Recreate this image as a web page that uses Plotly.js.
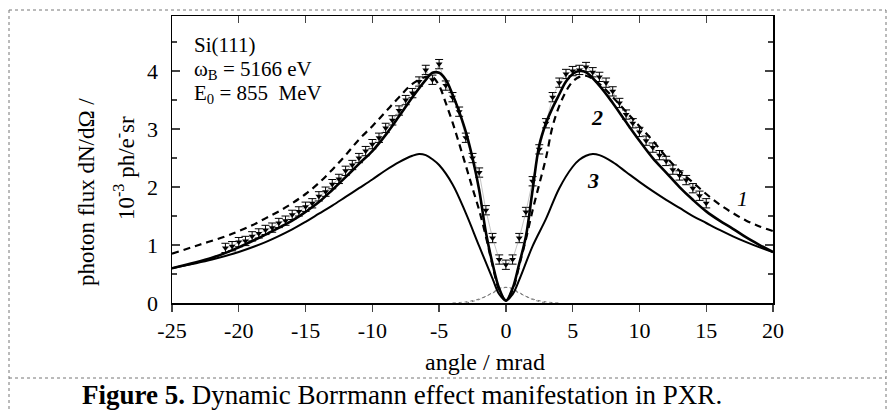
<!DOCTYPE html>
<html>
<head>
<meta charset="utf-8">
<script src="https://cdn.plot.ly/plotly-3.0.1.min.js"></script>
<style>html,body{margin:0;padding:0;background:#fff;}#chart{width:893px;height:411px;}</style>
</head>
<body>
<div id="chart"></div>
<script>
// curve 1 (dashed)
var c1X = [-25,-23,-21,-20,-19,-18,-17,-16,-15,-14,-13,-12,-11,-10,-9,-8,-7,-6,-5.5,-5,-4.5,-4,-3.5,-3,-2.5,-2,-1.5,-1,-0.5,0,0.5,1,1.5,2,2.5,3,3.5,4,4.5,5,5.5,6,7,8,9,10,11,12,13,14,15,16,17,18,19,20];
var c1Y = [0.85,1.0,1.15,1.24,1.34,1.46,1.58,1.72,1.88,2.07,2.3,2.55,2.82,3.05,3.3,3.55,3.78,3.9,3.9,3.75,3.45,3.12,2.75,2.37,1.98,1.6,1.15,0.65,0.22,0.05,0.22,0.65,1.1,1.6,2.05,2.5,3.05,3.4,3.65,3.82,3.9,3.92,3.78,3.55,3.3,3.05,2.8,2.52,2.28,2.08,1.88,1.7,1.55,1.42,1.32,1.24];
// curve 2 (solid, thick)
var c2X = [-25,-22,-20,-18,-16,-15,-14,-13,-12,-11,-10,-9,-8,-7,-6,-5.5,-5,-4.5,-4,-3.5,-3,-2.5,-2,-1.5,-1,-0.5,0,0.5,1,1.5,2,2.5,3,3.5,4,4.5,5,5.5,6,7,8,9,10,11,12,13,14,15,16,17,18,19,20];
var c2Y = [0.6,0.78,0.96,1.18,1.42,1.57,1.74,1.95,2.17,2.4,2.62,2.9,3.22,3.55,3.85,3.97,3.97,3.85,3.6,3.3,2.95,2.5,1.95,1.22,0.68,0.25,0.04,0.25,0.68,1.15,1.95,2.72,3.1,3.37,3.6,3.82,3.95,4.0,3.98,3.75,3.45,3.12,2.8,2.5,2.25,2.0,1.78,1.58,1.42,1.28,1.13,1.0,0.88];
// curve 3 (solid, lower)
var c3X = [-25,-22,-20,-18,-16,-15,-14,-13,-12,-11,-10,-9,-8,-7,-6.5,-6,-5.5,-5,-4,-3,-2,-1,-0.5,0,0.5,1,2,3,4,5,5.5,6,6.5,7,8,9,10,11,12,13,14,15,16,17,18,19,20];
var c3Y = [0.6,0.75,0.88,1.05,1.27,1.4,1.54,1.68,1.83,1.98,2.13,2.29,2.43,2.54,2.57,2.55,2.48,2.38,2.05,1.55,0.98,0.42,0.15,0.04,0.15,0.4,0.98,1.45,1.98,2.35,2.47,2.54,2.57,2.55,2.43,2.26,2.09,1.93,1.78,1.64,1.5,1.38,1.26,1.15,1.05,0.96,0.88];
// measured data
var dataX = [-21,-20.5,-20,-19.5,-19,-18.5,-18,-17.5,-17,-16.5,-16,-15.5,-15,-14.5,-14,-13.5,-13,-12.5,-12,-11.5,-11,-10.5,-10,-9.5,-9,-8.5,-8,-7.5,-7,-6.5,-6,-5.5,-5,-4.5,-4,-3.5,-3,-2.5,-2,-1.5,-1,-0.5,0,0.5,1,1.5,2,2.5,3,3.5,4,4.5,5,5.5,6,6.5,7,7.5,8,8.5,9,9.5,10,10.5,11,11.5,12,12.5,13,13.5,14,14.5,15];
var dataY = [0.95,0.98,1.05,1.07,1.15,1.2,1.26,1.3,1.38,1.42,1.52,1.58,1.66,1.72,1.84,1.92,2.05,2.14,2.28,2.38,2.5,2.62,2.74,2.85,3.02,3.15,3.32,3.5,3.62,3.82,4.02,3.85,4.12,3.75,3.55,3.3,2.85,2.5,2.25,1.6,1.12,0.75,0.66,0.75,1.12,1.57,2.1,2.65,3.1,3.55,3.8,3.95,4.0,4.02,4.07,3.98,3.9,3.8,3.65,3.45,3.25,3.1,2.95,2.8,2.68,2.55,2.45,2.3,2.2,2.12,1.98,1.85,1.72];
var dataErr = 0.08;
// thin dotted background components
var bgAX = [-4,-3,-2,-1,-0.5,0,0.5,1,2,3];
var bgAY = [0,0.02,0.07,0.17,0.23,0.27,0.25,0.18,0.06,0];
var bgBX = [-3,-2,-1,-0.5,0,0.5,1,2,3,4];
var bgBY = [0,0.06,0.18,0.25,0.27,0.23,0.17,0.07,0.02,0];
// ticks
var xTickVals = [-25,-20,-15,-10,-5,0,5,10,15,20];
var xTickText = ["-25","-20","-15","-10","-5","0","5","10","15","20"];
var yTickVals = [0,1,2,3,4];
var yTickText = ["0","1","2","3","4"];

var serif = "Liberation Serif, Times New Roman, serif";
var L = 172, R = 773, T = 16, B = 303;
function px(x){ return (x - L) / (R - L); }
function py(y){ return (B - y) / (B - T); }
function dx(p){ return (p - 505.7) / 13.35; }
function dy(p){ return (303 - p) / 58; }

var traces = [
  {x: bgAX, y: bgAY, mode: 'lines', line: {color: '#777', width: 1, dash: 'dot', shape: 'spline'}, hoverinfo: 'skip'},
  {x: bgBX, y: bgBY, mode: 'lines', line: {color: '#777', width: 1, dash: 'dot', shape: 'spline'}, hoverinfo: 'skip'},
  {x: c3X, y: c3Y, mode: 'lines', line: {color: '#000', width: 2, shape: 'spline'}},
  {x: dataX, y: dataY, mode: 'lines+markers', line: {color: '#888', width: 0.5},
   marker: {symbol: 'triangle-down', size: 6, color: '#000'},
   error_y: {type: 'constant', value: dataErr, color: '#000', thickness: 1, width: 4}},
  {x: c1X, y: c1Y, mode: 'lines', line: {color: '#000', width: 2.2, dash: '7px,5px', shape: 'spline'}},
  {x: c2X, y: c2Y, mode: 'lines', line: {color: '#000', width: 2.6, shape: 'spline'}}
];

var dash = {color: '#777', width: 1, dash: 'dot'};
function ann(o){ o.showarrow = false; if(!o.xanchor) o.xanchor = 'center'; if(!o.yanchor) o.yanchor = 'middle'; return o; }
var layout = {
  width: 893, height: 411,
  margin: {l: L, r: 893 - R, t: T, b: 411 - B},
  paper_bgcolor: '#fff', plot_bgcolor: '#fff',
  showlegend: false,
  font: {family: serif, size: 22, color: '#000'},
  xaxis: {range: [-25, 20], tickvals: xTickVals, ticktext: xTickText, ticks: 'outside', ticklen: 7, tickwidth: 1.3,
          showgrid: false, zeroline: false, showline: true, linecolor: '#000', linewidth: 1.5, mirror: true,
          ticklabelstandoff: 0, tickfont: {family: serif, size: 22}},
  xaxis2: {range: [-25, 20], overlaying: 'x', side: 'top', tickvals: xTickVals, ticks: 'inside', ticklen: 7,
           showticklabels: false, showgrid: false, zeroline: false, showline: false},
  yaxis: {range: [0, 4.95], tickvals: yTickVals, ticktext: yTickText, ticks: 'inside', ticklen: 8, tickwidth: 1.3,
          minor: {dtick: 0.5, ticks: 'inside', ticklen: 5, tickwidth: 1.2},
          showgrid: false, zeroline: false, showline: true, linecolor: '#000', linewidth: 1.5, mirror: 'ticks',
          ticklabelstandoff: 8, tickfont: {family: serif, size: 22}},
  shapes: [
    {type: 'line', xref: 'paper', yref: 'paper', x0: px(9), x1: px(886), y0: py(10), y1: py(10), line: dash},
    {type: 'line', xref: 'paper', yref: 'paper', x0: px(9), x1: px(9), y0: py(10), y1: py(411), line: dash},
    {type: 'line', xref: 'paper', yref: 'paper', x0: px(886), x1: px(886), y0: py(10), y1: py(411), line: dash},
    {type: 'line', xref: 'paper', yref: 'paper', x0: px(9), x1: px(886), y0: py(378), y1: py(378), line: dash}
  ],
  annotations: [
    ann({xref: 'paper', yref: 'paper', x: px(192), y: py(45), xanchor: 'left', text: 'Si(111)', font: {family: serif, size: 21}}),
    ann({xref: 'paper', yref: 'paper', x: px(192), y: py(70), xanchor: 'left', text: 'ω<sub>B</sub> = 5166 eV', font: {family: serif, size: 21}}),
    ann({xref: 'paper', yref: 'paper', x: px(192), y: py(94), xanchor: 'left', text: 'E<sub>0</sub> = 855  MeV', font: {family: serif, size: 21}}),
    ann({xref: 'x', yref: 'y', x: dx(742), y: dy(198), text: '<i>1</i>', font: {family: serif, size: 22}}),
    ann({xref: 'x', yref: 'y', x: dx(597), y: dy(117), text: '<i><b>2</b></i>', font: {family: serif, size: 22}}),
    ann({xref: 'x', yref: 'y', x: dx(593), y: dy(180), text: '<i><b>3</b></i>', font: {family: serif, size: 22}}),
    ann({xref: 'paper', yref: 'paper', x: px(485), y: py(362), text: 'angle / mrad', font: {family: serif, size: 24}}),
    ann({xref: 'paper', yref: 'paper', x: px(86), y: py(192), textangle: -90, text: 'photon flux dN/dΩ /', font: {family: serif, size: 23}}),
    ann({xref: 'paper', yref: 'paper', x: px(124), y: py(168), textangle: -90, text: '10<sup>-3</sup> ph/e<sup>-</sup>sr', font: {family: serif, size: 23}}),
    ann({xref: 'paper', yref: 'paper', x: px(80), y: py(395), xanchor: 'left',
     text: '<b>Figure 5.</b> Dynamic Borrmann effect manifestation in PXR.', font: {family: serif, size: 27}})
  ]
};
// invisible trace so the top axis ticks are drawn
traces.push({x: [-25], y: [0], xaxis: 'x2', mode: 'markers', marker: {opacity: 0}, hoverinfo: 'skip'});
Plotly.newPlot('chart', traces, layout, {staticPlot: true});
</script>
</body>
</html>
